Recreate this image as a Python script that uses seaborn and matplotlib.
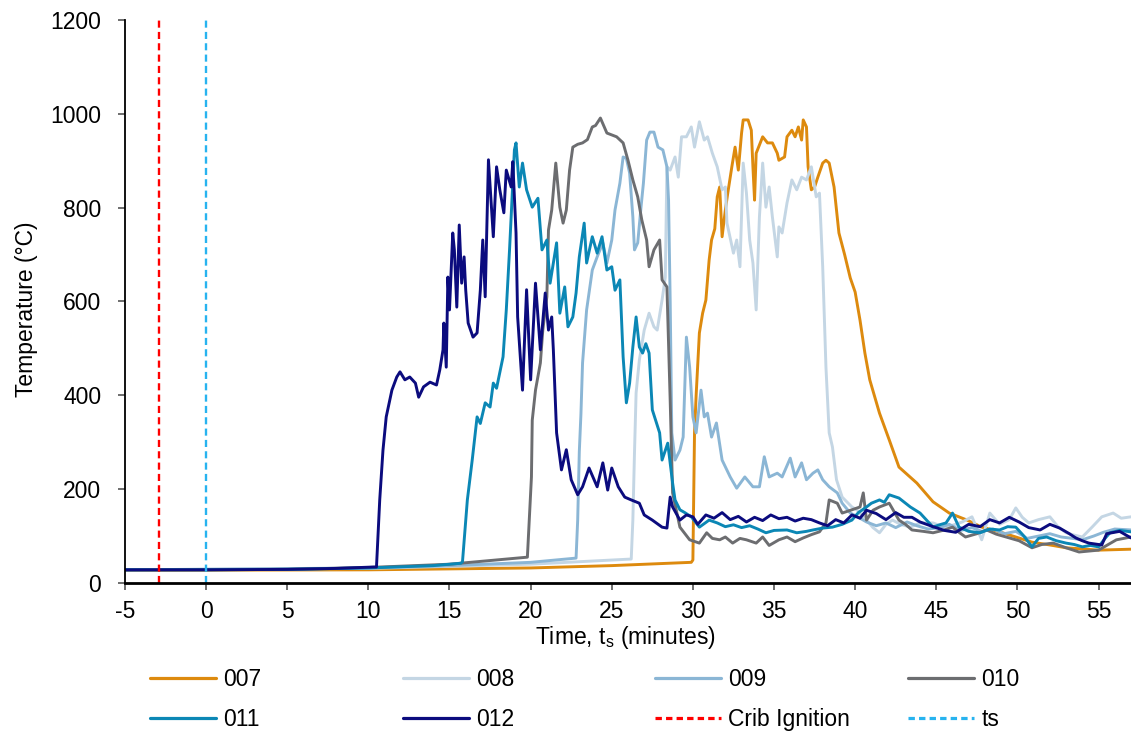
import pandas as pd
import numpy as np
import matplotlib
matplotlib.use('Agg')
import matplotlib.pyplot as plt
import seaborn as sns
from matplotlib.lines import Line2D

# test names and line colours
tests = ['007', '008', '009', '010', '011', '012']
test_colors = ['#DD8A0E', '#C4D6E4', '#8BB6D5', '#6C6D70', '#0B87B5', '#0B0B7E']

# event markers (minutes, relative to ts)
crib_ignition = -2.9
ts_time = 0.0

# (time in minutes, temperature in degC)
s007 = [(-5, 27), (10, 28), (20, 32), (25, 37), (29.9, 44), (30.0, 49), (30.1, 320), (30.2, 400),
        (30.4, 533), (30.6, 575), (30.8, 603), (31.0, 688), (31.15, 731), (31.35, 755), (31.5, 823),
        (31.65, 844), (31.8, 738), (32.0, 795), (32.15, 831), (32.4, 887), (32.6, 929), (32.8, 880),
        (33.0, 959), (33.1, 987), (33.4, 987), (33.6, 965), (33.7, 887), (33.8, 816), (33.9, 916),
        (34.3, 951), (34.6, 938), (34.9, 938), (35.2, 916), (35.3, 901), (35.65, 908), (35.8, 951),
        (36.1, 965), (36.3, 951), (36.5, 972), (36.7, 944), (36.8, 987), (37.0, 972), (37.1, 887),
        (37.3, 838), (37.5, 844), (37.7, 865), (38.0, 895), (38.2, 901), (38.4, 895), (38.7, 844),
        (39.0, 746), (39.35, 700), (39.7, 650), (40.0, 620), (40.3, 560), (40.6, 490), (40.9, 433),
        (41.5, 362), (42.1, 305), (42.7, 247), (43.8, 213), (44.8, 173), (45.8, 149), (46.9, 134),
        (47.8, 119), (48.9, 109), (49.9, 98), (50.9, 87), (52.0, 81), (53.0, 75), (55.0, 70), (57.0, 72)]

s008 = [(-5, 28), (10, 31), (20, 40), (26.2, 51), (26.3, 134), (26.4, 277), (26.5, 405), (26.7, 475),
        (27.0, 539), (27.3, 575), (27.6, 546), (27.8, 539), (28.1, 603), (28.3, 652), (28.4, 887),
        (28.6, 880), (28.9, 908), (29.1, 865), (29.3, 951), (29.6, 951), (29.9, 972), (30.1, 929),
        (30.4, 983), (30.7, 944), (30.9, 951), (31.2, 916), (31.5, 887), (31.8, 838), (32.0, 844),
        (32.1, 767), (32.5, 703), (32.7, 731), (32.9, 674), (33.1, 895), (33.3, 831), (33.5, 731),
        (33.7, 682), (33.9, 582), (34.1, 780), (34.3, 895), (34.5, 801), (34.7, 844), (34.9, 780),
        (35.2, 695), (35.3, 759), (35.5, 746), (35.8, 810), (36.1, 859), (36.4, 838), (36.7, 865),
        (37.0, 859), (37.3, 887), (37.6, 823), (37.8, 831), (38.0, 674), (38.2, 460), (38.4, 320),
        (38.6, 290), (38.85, 220), (39.2, 183), (39.8, 162), (40.1, 156), (40.7, 134), (41.1, 118),
        (41.5, 107), (41.9, 125), (42.3, 134), (42.8, 125), (43.4, 119), (44.0, 128), (44.8, 128),
        (45.4, 120), (46.0, 123), (46.6, 130), (47.2, 141), (47.8, 92), (48.3, 149), (48.9, 125),
        (49.5, 135), (49.9, 160), (50.3, 140), (50.7, 128), (51.3, 135), (52.0, 141), (52.5, 120),
        (53.0, 107), (53.5, 102), (54.0, 98), (54.6, 119), (55.2, 141), (55.9, 149), (56.4, 138),
        (57.0, 141)]

s009 = [(-5, 28), (10, 32), (15, 37), (20, 44), (22.8, 53), (22.9, 134), (23.0, 280), (23.1, 360),
        (23.2, 469), (23.45, 582), (23.8, 667), (24.1, 695), (24.45, 725), (24.7, 682), (25.0, 731),
        (25.2, 795), (25.5, 852), (25.7, 908), (25.9, 905), (26.1, 874), (26.3, 780), (26.4, 710),
        (26.6, 725), (26.8, 800), (26.95, 852), (27.15, 944), (27.35, 961), (27.6, 961), (27.85, 929),
        (28.15, 923), (28.4, 887), (28.5, 816), (28.6, 603), (28.7, 320), (28.9, 262), (29.2, 283),
        (29.4, 311), (29.6, 524), (29.8, 460), (30.0, 354), (30.2, 320), (30.5, 411), (30.7, 354),
        (30.9, 362), (31.15, 311), (31.45, 341), (31.8, 262), (32.3, 226), (32.7, 202), (33.2, 226),
        (33.7, 205), (34.1, 205), (34.4, 269), (34.7, 226), (35.2, 234), (35.5, 226), (36.0, 266),
        (36.3, 226), (36.7, 256), (37.0, 220), (37.4, 234), (37.7, 241), (38.0, 220), (38.4, 205),
        (38.9, 192), (39.2, 170), (39.7, 149), (40.2, 140), (40.7, 130), (41.3, 122), (41.9, 128),
        (42.5, 118), (43.2, 130), (43.8, 122), (44.5, 115), (45.2, 118), (45.8, 125), (46.5, 112),
        (47.2, 118), (47.8, 110), (48.5, 115), (49.2, 105), (49.9, 110), (50.6, 95), (51.3, 100),
        (52.0, 105), (52.7, 98), (53.4, 95), (54.0, 92), (54.7, 100), (55.3, 108), (56.0, 115),
        (57.0, 113)]

s010 = [(-5, 28), (5, 29), (10, 33), (15, 40), (19.8, 55), (20.05, 226), (20.1, 347), (20.3, 411),
        (20.6, 469), (20.75, 539), (21.0, 610), (21.1, 752), (21.3, 795), (21.55, 895), (21.8, 801),
        (22.0, 767), (22.2, 795), (22.4, 880), (22.6, 929), (22.9, 935), (23.2, 938), (23.5, 945),
        (23.8, 972), (24.0, 975), (24.3, 991), (24.5, 975), (24.7, 959), (25.0, 955), (25.3, 951),
        (25.7, 938), (26.0, 901), (26.3, 859), (26.6, 823), (26.85, 774), (27.15, 731), (27.3, 674),
        (27.6, 710), (27.95, 731), (28.1, 646), (28.4, 631), (28.6, 390), (28.75, 192), (29.2, 119),
        (29.8, 92), (30.4, 85), (30.85, 107), (31.2, 95), (31.65, 92), (32.0, 98), (32.45, 85),
        (32.9, 95), (33.3, 92), (33.9, 85), (34.3, 98), (34.7, 80), (35.3, 92), (35.8, 98), (36.3, 88),
        (36.8, 96), (37.3, 103), (37.8, 109), (38.2, 128), (38.4, 177), (38.9, 170), (39.2, 149),
        (39.8, 156), (40.3, 162), (40.5, 192), (40.7, 134), (41.1, 155), (41.5, 162), (42.1, 170),
        (42.7, 134), (43.1, 125), (43.5, 113), (44.2, 110), (44.8, 107), (45.4, 112), (46.0, 119),
        (46.4, 108), (46.8, 98), (47.5, 105), (48.1, 113), (48.7, 104), (49.3, 98), (50.1, 90),
        (50.9, 75), (51.5, 82), (52.2, 85), (53.0, 75), (53.8, 66), (54.4, 68), (55.0, 70), (55.6, 82),
        (56.1, 92), (57.0, 98)]

s011 = [(-5, 28), (0, 28), (5, 29), (10, 32), (14, 37), (15.7, 42), (15.8, 45), (16.1, 177), (16.4, 262),
        (16.7, 354), (16.9, 340), (17.2, 384), (17.5, 375), (17.7, 426), (17.9, 415), (18.3, 482),
        (18.5, 582), (18.7, 710), (18.9, 852), (19.0, 923), (19.1, 938), (19.3, 844), (19.5, 895),
        (19.75, 838), (20.1, 801), (20.45, 820), (20.7, 710), (21.0, 731), (21.2, 639), (21.6, 725),
        (21.8, 575), (22.1, 631), (22.3, 546), (22.6, 567), (22.8, 618), (23.0, 695), (23.3, 767),
        (23.45, 682), (23.8, 738), (24.1, 703), (24.4, 738), (24.7, 667), (25.0, 674), (25.2, 624),
        (25.5, 646), (25.7, 482), (25.9, 384), (26.1, 426), (26.3, 503), (26.5, 567), (26.7, 503),
        (26.9, 490), (27.1, 510), (27.3, 490), (27.5, 369), (27.95, 320), (28.1, 262), (28.45, 298),
        (28.75, 213), (28.9, 177), (29.2, 156), (29.5, 150), (29.9, 141), (30.4, 119), (31.0, 134),
        (31.5, 128), (32.0, 120), (32.5, 124), (33.0, 118), (33.5, 122), (34.0, 115), (34.5, 107),
        (35.0, 112), (35.8, 113), (36.4, 107), (37.0, 110), (37.4, 113), (38.0, 117), (38.6, 119),
        (39.2, 125), (39.8, 134), (40.2, 150), (40.7, 162), (41.0, 170), (41.5, 177), (41.8, 172),
        (42.1, 188), (42.7, 181), (43.4, 162), (44.0, 149), (44.8, 119), (45.2, 124), (45.6, 128),
        (46.0, 149), (46.4, 119), (47.0, 110), (47.7, 107), (48.3, 115), (48.9, 113), (49.4, 120),
        (49.9, 119), (50.4, 100), (50.9, 77), (51.3, 95), (51.8, 98), (52.4, 90), (53.0, 85),
        (53.5, 82), (54.0, 77), (54.5, 80), (55.0, 77), (55.4, 95), (55.7, 107), (56.3, 112), (57.0, 109)]

s012 = [(-5, 28), (0, 28), (5, 29), (8, 31), (10.3, 34), (10.5, 34), (10.7, 177), (10.9, 283), (11.1, 354),
        (11.45, 411), (11.75, 439), (11.95, 450), (12.25, 433), (12.55, 439), (12.9, 426), (13.1, 396),
        (13.4, 418), (13.8, 428), (14.2, 422), (14.4, 454), (14.6, 497), (14.65, 554), (14.8, 460),
        (14.9, 652), (15.0, 582), (15.2, 746), (15.3, 710), (15.45, 588), (15.6, 763), (15.75, 639),
        (15.9, 695), (16.0, 624), (16.15, 554), (16.45, 524), (16.7, 533), (16.9, 624), (17.05, 731),
        (17.2, 610), (17.4, 902), (17.7, 738), (17.9, 887), (18.1, 838), (18.35, 789), (18.5, 880),
        (18.8, 844), (18.9, 898), (19.1, 746), (19.2, 567), (19.5, 411), (19.75, 625), (20.0, 433),
        (20.3, 639), (20.6, 497), (20.9, 618), (21.1, 539), (21.3, 567), (21.4, 497), (21.6, 320),
        (21.9, 241), (22.2, 284), (22.5, 220), (22.9, 188), (23.2, 205), (23.6, 245), (24.1, 205),
        (24.45, 256), (24.75, 198), (25.0, 245), (25.4, 205), (25.8, 183), (26.2, 177), (26.7, 170),
        (27.0, 145), (27.5, 134), (28.1, 119), (28.4, 117), (28.6, 183), (28.75, 162), (29.2, 134),
        (29.6, 145), (30.0, 141), (30.3, 125), (30.8, 145), (31.3, 138), (31.8, 150), (32.3, 135),
        (32.8, 142), (33.3, 130), (33.8, 140), (34.3, 133), (34.8, 145), (35.3, 137), (35.8, 140),
        (36.3, 132), (36.8, 138), (37.3, 135), (37.8, 128), (38.3, 122), (38.8, 135), (39.3, 128),
        (39.8, 145), (40.3, 138), (40.7, 155), (41.3, 148), (41.9, 135), (42.5, 150), (43.0, 140),
        (43.5, 140), (44.0, 130), (44.8, 120), (45.5, 112), (46.2, 108), (47.0, 125), (47.7, 120),
        (48.3, 135), (48.9, 128), (49.5, 140), (50.1, 130), (50.7, 118), (51.4, 113), (52.0, 125),
        (52.6, 117), (53.2, 105), (53.6, 96), (54.0, 90), (54.4, 85), (55.2, 81), (55.5, 105),
        (56.3, 110), (57.0, 96)]

series = [s007, s008, s009, s010, s011, s012]

rows = []
for name, pts in zip(tests, series):
    for t, temp in pts:
        rows.append((t, temp, name))
df = pd.DataFrame(rows, columns=['Time', 'Temperature', 'Test'])

sns.set_style('ticks')
plt.rcParams['font.family'] = ['Liberation Sans', 'DejaVu Sans']
plt.rcParams['mathtext.fontset'] = 'custom'
plt.rcParams['mathtext.rm'] = 'Liberation Sans'
plt.rcParams['axes.unicode_minus'] = False
plt.rcParams['text.color'] = 'black'
plt.rcParams['axes.labelcolor'] = 'black'
plt.rcParams['xtick.color'] = 'black'
plt.rcParams['ytick.color'] = 'black'

fs = 16.5
fig = plt.figure(figsize=(11.31, 7.4), dpi=100)
ax = fig.add_axes([0.1105, 0.2122, 0.8895, 0.7608])

palette = dict(zip(tests, test_colors))
sns.lineplot(data=df, x='Time', y='Temperature', hue='Test', palette=palette,
             estimator=None, sort=False, linewidth=2.1, legend=False, ax=ax)

ax.axvline(crib_ignition, color='#FF0000', lw=1.7, dashes=(3, 1.8))
ax.axvline(ts_time, color='#27B3EF', lw=1.7, dashes=(3, 1.8))

ax.set_xlim(-5, 57)
ax.set_ylim(0, 1200)
ax.set_xticks(range(-5, 56, 5))
ax.set_yticks(range(0, 1201, 200))
ax.tick_params(axis='both', direction='out', length=5, width=1.2, labelsize=fs,
               color='#555555', labelcolor='black')
ax.tick_params(axis='y', pad=12)
ax.tick_params(axis='x', pad=7)

for side in ['top', 'right']:
    ax.spines[side].set_visible(False)
ax.spines['left'].set_linewidth(1.3)
ax.spines['bottom'].set_linewidth(2.0)
ax.spines['left'].set_color('black')
ax.spines['bottom'].set_color('black')

ax.set_ylabel('Temperature (°C)', fontsize=fs, color='black')
ax.yaxis.set_label_coords(-0.0865, 0.487)
ax.set_xlabel('Time, t$_\\mathregular{s}$ (minutes)', fontsize=fs, color='black')
ax.xaxis.set_label_coords(0.498, -0.072)

# legend: 4 equal-width columns, 2 rows, below the axes
handles = [Line2D([], [], color=c, lw=2.3) for c in test_colors]
handles.append(Line2D([], [], color='#FF0000', lw=2.3, dashes=(2, 1.3)))
handles.append(Line2D([], [], color='#27B3EF', lw=2.3, dashes=(2, 1.3)))
labels = tests + ['Crib Ignition', 'ts']
col_x = [150, 403, 655, 908]
for i, x0 in enumerate(col_x):
    fig.legend(handles=[handles[i], handles[i + 4]], labels=[labels[i], labels[i + 4]],
               loc='center left', bbox_to_anchor=(x0 / 1131, 1 - 699.5 / 740),
               frameon=False, fontsize=fs, handlelength=2.9, handletextpad=0.3,
               labelspacing=0.75, borderpad=0, borderaxespad=0, labelcolor='black')

fig.savefig('out.png', dpi=100)
